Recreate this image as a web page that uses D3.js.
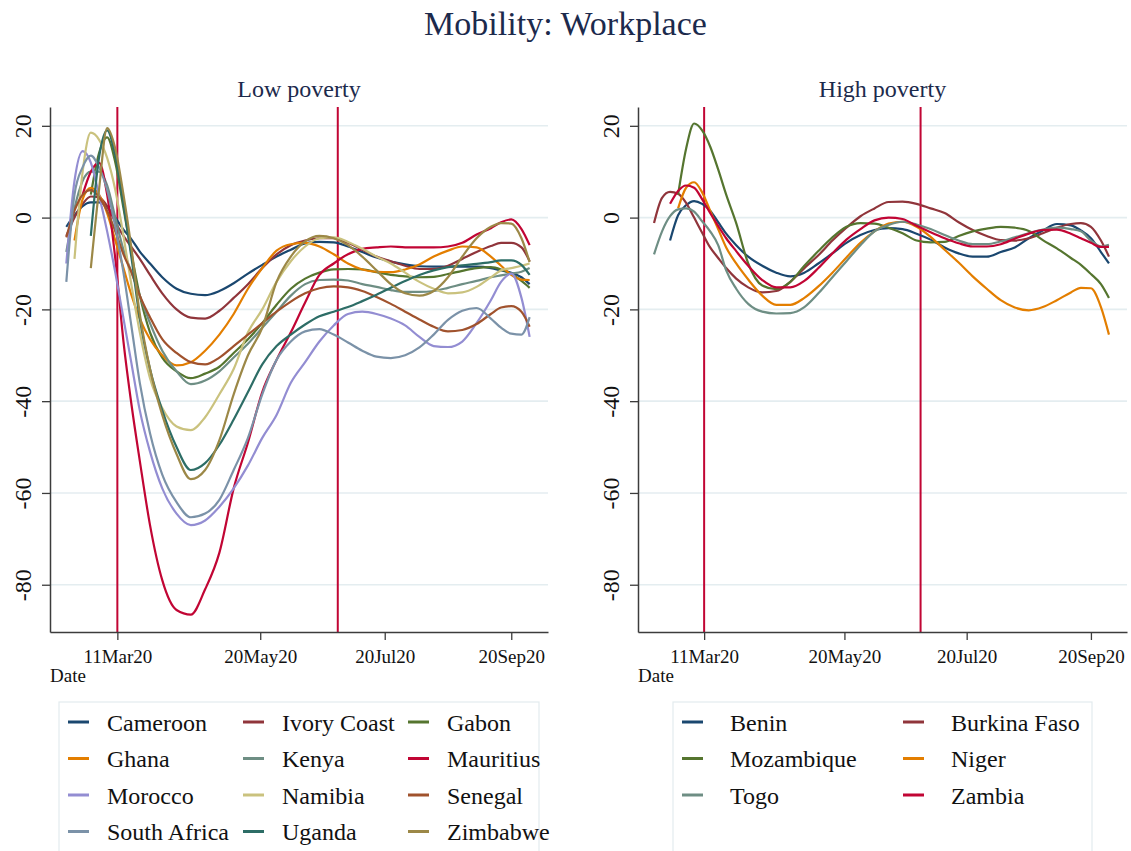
<!DOCTYPE html>
<html lang="en">
<head>
  <meta charset="UTF-8">
  <title>Mobility: Workplace</title>
  <script src="https://d3js.org/d3.v7.min.js"></script>
  <style>
    body { margin: 0; background: #fff; }
    svg { display: block; font-family: "Liberation Serif", "Times New Roman", serif; }
  </style>
</head>
<body>
<svg id="chart" width="1131" height="851"></svg>
<script>
  // ---- data ----
  const dates = [
    "2020-02-15", "2020-02-19", "2020-02-23", "2020-02-27", "2020-03-02", "2020-03-06", "2020-03-10",
    "2020-03-14", "2020-03-18", "2020-03-22", "2020-03-27", "2020-04-02", "2020-04-09", "2020-04-16",
    "2020-04-23", "2020-04-30", "2020-05-07", "2020-05-14", "2020-05-21", "2020-05-28", "2020-06-04",
    "2020-06-11", "2020-06-18", "2020-06-25", "2020-07-02", "2020-07-09", "2020-07-16", "2020-07-23",
    "2020-07-30", "2020-08-06", "2020-08-13", "2020-08-20", "2020-08-27", "2020-09-03", "2020-09-10",
    "2020-09-15", "2020-09-20", "2020-09-25", "2020-09-29"
  ];

  const yTicks = [20, 0, -20, -40, -60, -80];
  const xTickDates = ["2020-03-11", "2020-05-20", "2020-07-20", "2020-09-20"];
  const xTickLabels = ["11Mar20", "20May20", "20Jul20", "20Sep20"];
  const eventDates = ["2020-03-11", "2020-06-27"];

  const lowCountries = ["Cameroon", "Ivory Coast", "Gabon", "Ghana", "Kenya", "Mauritius",
    "Morocco", "Namibia", "Senegal", "South Africa", "Uganda", "Zimbabwe"];
  const highCountries = ["Benin", "Burkina Faso", "Mozambique", "Niger", "Togo", "Zambia"];

  // low poverty
  const cameroon = [-2, 0.5, 2.5, 3.3, 3.3, 2.3, 0, -2.6, -4.8, -7.4, -10, -13, -15.5, -16.6, -16.9, -16, -14.3, -12.2, -10.3, -8.5, -7, -5.6, -5.3, -5.4, -6.3, -7.5, -8.7, -9.6, -10.2, -10.6, -10.7, -10.7, -10.7, -10.7, -11, -11.5, -12, -13, -14.5];
  const ivoryCoast = [-4, 0, 3, 4.6, 4.4, 2.5, -1, -4, -6.5, -9, -12.5, -16.5, -20, -21.8, -22, -20.3, -17.5, -14.5, -11, -8, -6, -5, -4.5, -4.5, -5.5, -7, -8.5, -9.5, -10.5, -11.2, -11.2, -10.5, -9, -7.5, -6.2, -5.5, -5.5, -6.5, -9.5];
  const gabon = [null, null, null, 5, 14, 17.5, 12, 2, -8, -17, -25, -30.5, -33.5, -35, -34, -32.5, -29.5, -26.5, -23, -19, -15.5, -13.3, -12, -11.3, -11.2, -11.3, -11.9, -12.5, -12.8, -13, -12.9, -12.3, -11.6, -11, -10.8, -11.3, -12.3, -13.8, -15.3];
  const ghana = [null, -5, 4, 6.5, 5, 1, -5, -11, -17, -22, -26.5, -30, -32.2, -31.5, -29, -25.5, -21, -15.5, -11, -7.2, -5.8, -5.5, -6.3, -8, -10, -11.3, -11.8, -11.9, -11.3, -10.2, -8.5, -7.2, -6.3, -6.5, -8.5, -10.5, -12.5, -13.5, -13.6];
  const kenya = [-7.5, 2, 8, 10, 10, 7, 0, -7, -12, -17, -23, -29, -33.5, -36.3, -35.5, -33.5, -30.5, -27.5, -24, -20.5, -17, -14.5, -13.6, -13.5, -13.7, -14.5, -15.1, -15.8, -16.2, -16.2, -16, -15.3, -14.5, -13.8, -13, -12.6, -12.2, -11.8, -11];
  const mauritius = [null, null, 5, 10, 12, 5, -9, -27, -41, -53, -67, -79, -85.5, -86.5, -81, -73, -59, -49, -38, -31, -25, -18.5, -12.5, -10, -8, -6.8, -6.5, -6.3, -6.5, -6.5, -6.5, -6.3, -5.5, -3.7, -2.3, -1, -0.4, -2.5, -6];
  const morocco = [-10, 8, 14.5, 12, 5, -3, -12, -22, -32, -42, -51, -59, -64.5, -67, -66, -63, -59, -54, -48, -43, -36, -31.5, -27, -23.5, -21, -20.5, -21, -22, -23.5, -26, -28, -28.2, -27, -23, -18, -14, -12.2, -17.5, -26];
  const namibia = [null, -9, 10, 18.5, 17, 13, 6, -4, -15, -25, -35, -41.5, -45.5, -46.3, -43.5, -38.5, -33, -25, -20, -14, -9.5, -6.3, -4.5, -4.3, -5.3, -6.8, -8.5, -10, -12, -14, -15.5, -16.5, -16.3, -15.1, -13, -11.5, -11, -10.5, -10];
  const senegal = [-4.3, 1.5, 5, 6, 4.5, 1.5, -3, -8, -12, -17, -21.7, -26.5, -29.5, -31.5, -32, -30.5, -28, -25.5, -23, -20.5, -18.3, -16.5, -15.4, -15, -15.2, -16, -17.3, -18.8, -20.5, -22.2, -23.8, -24.8, -24.5, -23.2, -21, -19.6, -19.3, -20.5, -23.8];
  const southAfrica = [-14, 5, 11, 13.5, 11, 6, -2, -12, -24, -36, -47, -56, -62, -65.3, -64.5, -61.5, -55, -48, -38.5, -31, -27, -24.8, -24.3, -25.5, -27.2, -29, -30.3, -30.6, -30, -28.3, -25.5, -22.3, -20.3, -19.7, -22, -24, -25.3, -25.5, -21.7];
  const uganda = [null, null, null, -4, 13, 19, 13.5, 3, -9, -22, -33, -42, -50, -55, -53.5, -49.5, -44, -38, -32, -28, -25.5, -23.3, -21.5, -20.5, -19.5, -18.2, -16.8, -15.3, -13.8, -12.5, -11.5, -10.8, -10.4, -10.1, -9.7, -9.3, -9.3, -10.3, -12.5];
  const zimbabwe = [null, null, null, -11, 6, 19.5, 15, 5, -7, -21, -33, -43, -51.5, -57, -55, -48.5, -38.5, -30, -24, -14, -8.5, -5.2, -4, -4.5, -6, -8.5, -11.5, -14.5, -16.5, -17, -16, -13, -8.5, -4.5, -2, -1.2, -1.3, -4.5, -9.7];

  // high poverty
  const benin = [null, null, -5, 0.5, 2.7, 3.6, 3, 1.5, -1, -3.5, -6, -8.5, -10.5, -12, -12.8, -12, -10, -7.8, -5.5, -3.8, -2.7, -2.3, -2.5, -3.5, -4.8, -6.5, -7.8, -8.5, -8.5, -7.5, -6.5, -4.5, -2.8, -1.4, -1.7, -2.8, -4.5, -7.5, -10];
  const burkinaFaso = [-1.2, 4.3, 5.6, 5.2, 3.2, 0, -3.3, -6.5, -8.8, -11, -13.3, -15.2, -16.3, -16, -14, -11, -8.2, -5, -2.2, 0.3, 2, 3.4, 3.5, 3, 2, 1, -1, -2.7, -4, -4.9, -5, -4.5, -3.4, -2.2, -1.4, -1.2, -2, -5, -8.5];
  const mozambique = [null, null, null, 5, 15, 20.5, 19, 15.5, 10.5, 5, -1.2, -10, -14.8, -15.6, -14, -10.5, -7.3, -4.3, -2, -1.2, -1.3, -2.2, -3.4, -5, -5.4, -5.3, -4, -3, -2.4, -2, -2.2, -2.9, -4.9, -6.7, -8.8, -10.3, -12.3, -14.5, -17.5];
  const niger = [null, null, null, 2, 6.5, 7.7, 5.5, 1.5, -2.5, -6.5, -10, -13.5, -17, -19, -19, -17.5, -15, -12, -8.7, -5.5, -3, -1.3, -0.9, -2, -4.2, -7, -9.8, -12.8, -15.5, -18, -19.6, -20.2, -19.5, -18, -16.3, -15.3, -15.4, -19.5, -25.5];
  const togo = [-8, -3, 0.3, 1.8, 2, 1.3, -0.8, -3, -6, -11.5, -15.5, -18.8, -20.5, -20.9, -20.8, -19.5, -16.5, -13, -9.5, -6, -3, -1.6, -0.9, -1.5, -2.5, -3.8, -5, -5.8, -5.8, -5.2, -4.3, -3.4, -2.6, -2.2, -2.5, -3, -5, -6.3, -5.9];
  const zambia = [null, null, 3, 5.8, 7, 6.5, 4, 1, -1.8, -4.5, -7.3, -10.5, -13.6, -15.2, -15.2, -13.8, -11, -7.8, -4.8, -2.5, -0.6, 0, -0.3, -1.8, -3.2, -4.5, -5.6, -6.3, -6.3, -5.8, -4.6, -3.5, -2.7, -2.6, -3.5, -4.5, -5.5, -6.4, -6.4];

  const lowValues = [cameroon, ivoryCoast, gabon, ghana, kenya, mauritius, morocco, namibia, senegal, southAfrica, uganda, zimbabwe];
  const highValues = [benin, burkinaFaso, mozambique, niger, togo, zambia];

  // stata s2color
  const palette = ["#1a476f", "#90353b", "#55752f", "#e37e00", "#6e8e84", "#c10534",
    "#938dd2", "#cac27e", "#a0522d", "#7b92a8", "#2d6d66", "#9c8847"];

  // ---- layout ----
  const width = 1131, height = 851;
  const plotTop = 107, plotBottom = 632;
  const navy = "#1c2a4c";
  const parse = d3.utcParse("%Y-%m-%d");
  const xDomain = [parse("2020-02-07"), parse("2020-10-08")];

  const svg = d3.select("#chart");

  svg.append("text")
    .attr("x", width / 2)
    .attr("y", 35)
    .attr("text-anchor", "middle")
    .attr("font-size", 34)
    .attr("fill", navy)
    .text("Mobility: Workplace");

  const panels = [
    {
      title: "Low poverty", x0: 50, x1: 548, names: lowCountries, values: lowValues,
      box: [59, 480], symX: [68, 243, 408], textX: [107, 282, 447], cols: 3
    },
    {
      title: "High poverty", x0: 638, x1: 1127, names: highCountries, values: highValues,
      box: [673, 419], symX: [682, 903], textX: [730, 951], cols: 2
    }
  ];

  panels.forEach(p => {
    const x = d3.scaleUtc().domain(xDomain).range([p.x0, p.x1]);
    const y = d3.scaleLinear().domain([-90.3, 24.1]).range([plotBottom, plotTop]);
    const g = svg.append("g");

    g.append("text")
      .attr("x", (p.x0 + p.x1) / 2)
      .attr("y", 97)
      .attr("text-anchor", "middle")
      .attr("font-size", 24)
      .attr("fill", navy)
      .text(p.title);

    // grid
    g.append("g").selectAll("line")
      .data(yTicks)
      .join("line")
      .attr("x1", p.x0).attr("x2", p.x1)
      .attr("y1", d => y(d)).attr("y2", d => y(d))
      .attr("stroke", "#e4edf0")
      .attr("stroke-width", 1.6);

    // event lines
    g.append("g").selectAll("line")
      .data(eventDates)
      .join("line")
      .attr("x1", d => x(parse(d))).attr("x2", d => x(parse(d)))
      .attr("y1", plotTop).attr("y2", plotBottom)
      .attr("stroke", "#c10534")
      .attr("stroke-width", 2);

    // series
    const line = d3.line()
      .defined(d => d.v != null)
      .x(d => x(d.date))
      .y(d => y(d.v))
      .curve(d3.curveMonotoneX);

    p.values.forEach((vals, i) => {
      const rows = dates.map((s, j) => ({date: parse(s), v: vals[j]}));
      g.append("path")
        .datum(rows)
        .attr("fill", "none")
        .attr("stroke", palette[i])
        .attr("stroke-width", 2.2)
        .attr("stroke-linejoin", "round")
        .attr("d", line);
    });

    // axes
    const yAxis = g.append("g")
      .attr("transform", `translate(${p.x0},0)`)
      .call(d3.axisLeft(y).tickValues(yTicks).tickFormat(d => String(d))
        .tickSize(8).tickSizeOuter(0));
    yAxis.attr("font-family", null).attr("font-size", null);
    yAxis.select(".domain").attr("stroke", "#3c3c3c").attr("stroke-width", 1.5);
    yAxis.selectAll(".tick line").attr("stroke", "#3c3c3c").attr("stroke-width", 1.3);
    yAxis.selectAll(".tick text")
      .attr("font-size", 24)
      .attr("fill", "#111")
      .attr("text-anchor", "middle")
      .attr("x", 0).attr("y", 0).attr("dy", 0)
      .attr("transform", "translate(-19,0) rotate(-90)");

    const xAxis = g.append("g")
      .attr("transform", `translate(0,${plotBottom})`)
      .call(d3.axisBottom(x)
        .tickValues(xTickDates.map(parse))
        .tickFormat((d, i) => xTickLabels[i])
        .tickSize(8).tickSizeOuter(0));
    xAxis.attr("font-family", null).attr("font-size", null);
    xAxis.select(".domain").attr("stroke", "#3c3c3c").attr("stroke-width", 1.5);
    xAxis.selectAll(".tick line").attr("stroke", "#3c3c3c").attr("stroke-width", 1.3);
    xAxis.selectAll(".tick text")
      .attr("font-size", 19)
      .attr("fill", "#111")
      .attr("y", 31).attr("dy", 0);

    g.append("text")
      .attr("x", p.x0)
      .attr("y", 682)
      .attr("font-size", 19)
      .attr("fill", "#111")
      .text("Date");

    // legend
    const lg = g.append("g");
    lg.append("rect")
      .attr("x", p.box[0]).attr("y", 702)
      .attr("width", p.box[1]).attr("height", 200)
      .attr("fill", "#fff")
      .attr("stroke", "#e3ebee")
      .attr("stroke-width", 1.2);

    const items = lg.selectAll("g.item")
      .data(p.names)
      .join("g")
      .attr("class", "item");

    items.append("line")
      .attr("x1", (d, i) => p.symX[i % p.cols])
      .attr("x2", (d, i) => p.symX[i % p.cols] + 21)
      .attr("y1", (d, i) => 722 + Math.floor(i / p.cols) * 36.5)
      .attr("y2", (d, i) => 722 + Math.floor(i / p.cols) * 36.5)
      .attr("stroke", (d, i) => palette[i])
      .attr("stroke-width", 3);

    items.append("text")
      .attr("x", (d, i) => p.textX[i % p.cols])
      .attr("y", (d, i) => 730.5 + Math.floor(i / p.cols) * 36.5)
      .attr("font-size", 24)
      .attr("fill", "#111")
      .text(d => d);
  });
</script>
</body>
</html>
